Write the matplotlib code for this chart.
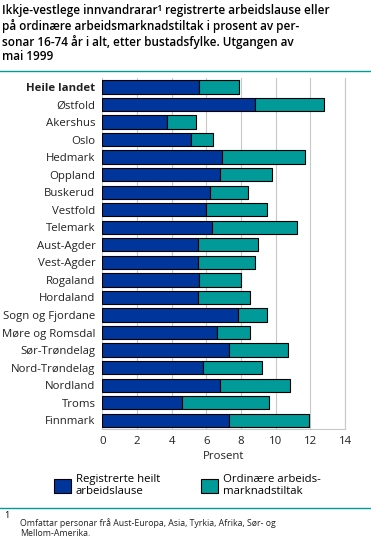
import matplotlib
matplotlib.use('Agg')
import matplotlib.pyplot as plt
from matplotlib.patches import Patch
from matplotlib.lines import Line2D

fylke = ['Heile landet', 'Østfold', 'Akershus', 'Oslo', 'Hedmark', 'Oppland',
         'Buskerud', 'Vestfold', 'Telemark', 'Aust-Agder', 'Vest-Agder',
         'Rogaland', 'Hordaland', 'Sogn og Fjordane', 'Møre og Romsdal',
         'Sør-Trøndelag', 'Nord-Trøndelag', 'Nordland', 'Troms', 'Finnmark']
heilt_arbeidslause = [5.6, 8.8, 3.7, 5.1, 6.9, 6.8, 6.2, 6.0, 6.3, 5.5, 5.5,
                      5.6, 5.5, 7.8, 6.6, 7.3, 5.8, 6.8, 4.6, 7.3]
tiltak = [2.3, 4.0, 1.7, 1.3, 4.8, 3.0, 2.2, 3.5, 4.9, 3.5, 3.3,
          2.4, 3.0, 1.7, 1.9, 3.4, 3.4, 4.0, 5.0, 4.6]
xticks = [0, 2, 4, 6, 8, 10, 12, 14]

blue = '#00359c'
teal = '#009a98'
txt = '#222222'

plt.rcParams['font.family'] = ['Open Sans', 'DejaVu Sans']
fig = plt.figure(figsize=(3.71, 5.39), dpi=100)
ax = fig.add_axes([0.276, 0.204, 0.654, 0.651])

y = list(range(len(fylke)))
ax.barh(y, heilt_arbeidslause, height=0.76, color=blue, edgecolor='black', linewidth=0.8, zorder=3)
ax.barh(y, tiltak, left=heilt_arbeidslause, height=0.76, color=teal, edgecolor='black', linewidth=0.8, zorder=3)

ax.set_ylim(len(fylke) - 0.5, -0.5)
ax.set_xlim(0, 14)
ax.set_xticks(xticks)
ax.set_xticklabels([str(t) for t in xticks], fontsize=8.2, color=txt)
ax.set_yticks(y)
ax.set_yticklabels(fylke, fontsize=8.2, color=txt)
ax.get_yticklabels()[0].set_fontweight('bold')
ax.tick_params(length=0, pad=5)
ax.grid(axis='x', color='#c8c8c8', linewidth=0.8, zorder=0)
for s in ['top', 'left']:
    ax.spines[s].set_visible(False)
for s in ['bottom', 'right']:
    ax.spines[s].set_color('#c8c8c8')
    ax.spines[s].set_linewidth(0.8)
ax.set_xlabel('Prosent', fontsize=8.2, color=txt, labelpad=3)

fig.text(0.005, 0.993,
         'Ikkje-vestlege innvandrarar¹ registrerte arbeidslause eller\n'
         'på ordinære arbeidsmarknadstiltak i prosent av per-\n'
         'sonar 16-74 år i alt, etter bustadsfylke. Utgangen av\n'
         'mai 1999',
         fontsize=8.5, fontweight='semibold', va='top', ha='left', linespacing=1.17)

fig.add_artist(Line2D([0, 1], [0.868, 0.868], color=teal, linewidth=1))
fig.add_artist(Line2D([0, 1], [0.058, 0.058], color=teal, linewidth=1))

handles = [Patch(facecolor=blue, edgecolor='black', linewidth=0.8),
           Patch(facecolor=teal, edgecolor='black', linewidth=0.8)]
fig.legend(handles, ['Registrerte heilt\narbeidslause', 'Ordinære arbeids-\nmarknadstiltak'],
           loc='center', bbox_to_anchor=(0.505, 0.099), ncol=2, frameon=False,
           fontsize=8.2, handlelength=1.5, handleheight=1.6, columnspacing=3.6,
           handletextpad=0.4)

fig.text(0.012, 0.044, '1', fontsize=6.5, va='center')
fig.text(0.054, 0.038, 'Omfattar personar frå Aust-Europa, Asia, Tyrkia, Afrika, Sør- og\nMellom-Amerika.',
         fontsize=6.3, va='top', color=txt, linespacing=1.15)

fig.savefig('out.png', dpi=100)
